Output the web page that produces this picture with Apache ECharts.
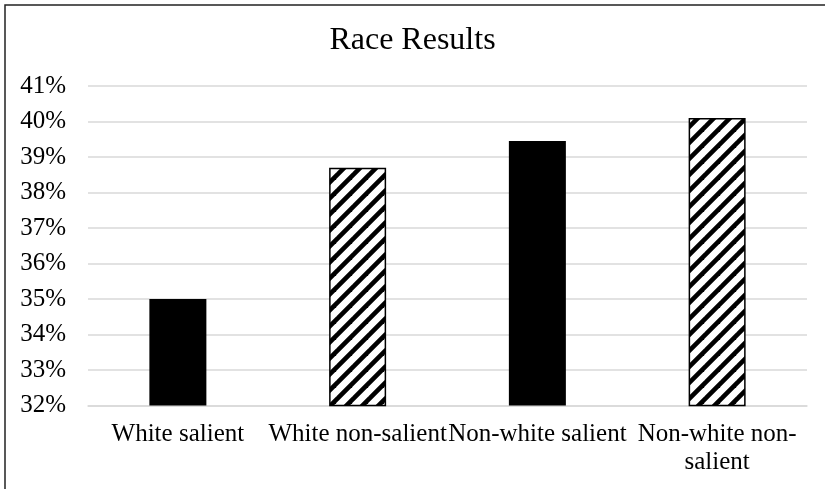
<!DOCTYPE html>
<html>
<head>
<meta charset="utf-8">
<script src="https://cdn.jsdelivr.net/npm/echarts@6/dist/echarts.min.js"></script>
<style>
  html, body { margin: 0; padding: 0; background: #fff; }
  #chart { width: 825px; height: 489px; }
</style>
</head>
<body>
<div id="chart"></div>
<script>
// Chart data
const categories = ['White salient', 'White non-salient', 'Non-white salient', 'Non-white non-salient'];
const values = [35.0, 38.7, 39.45, 40.1];     // percent
const hatched = [false, true, false, true];  // striped fill for the non-salient groups
const yTicks = { min: 32, max: 41, step: 1 };

// Diagonal "/" stripe tile used for the hatched bars
function makeStripeTile() {
  const size = 16;
  const c = document.createElement('canvas');
  c.width = size; c.height = size;
  const ctx = c.getContext('2d');
  ctx.fillStyle = '#fff';
  ctx.fillRect(0, 0, size, size);
  ctx.strokeStyle = '#000';
  ctx.lineWidth = 4.6;
  for (let k = -size; k <= size * 2; k += size) {
    ctx.beginPath();
    ctx.moveTo(k - 4, size + 4);
    ctx.lineTo(k + size + 4, -4);
    ctx.stroke();
  }
  return c;
}
const stripe = { image: makeStripeTile(), repeat: 'repeat' };

const chart = echarts.init(document.getElementById('chart'), null, { renderer: 'canvas' });

const serif = '"Liberation Serif", "Times New Roman", serif';

chart.setOption({
  animation: false,
  backgroundColor: '#fff',
  title: {
    text: 'Race Results',
    left: 'center',
    top: 20,
    textStyle: { fontFamily: serif, fontSize: 32, fontWeight: 'normal', color: '#000' }
  },
  graphic: [{
    type: 'rect',
    shape: { x: 5, y: 5, width: 900, height: 600 },
    style: { fill: 'none', stroke: '#222', lineWidth: 1.5 },
    silent: true
  }],
  grid: { left: 88, right: 18, top: 86, bottom: 83.5 },
  xAxis: {
    type: 'category',
    data: categories,
    axisTick: { show: false },
    axisLine: { show: true, lineStyle: { color: '#d9d9d9', width: 1.5 } },
    axisLabel: {
      interval: 0,
      hideOverlap: false,
      margin: 15,
      fontFamily: serif,
      fontSize: 25,
      lineHeight: 28,
      color: '#000',
      formatter: v => v === 'Non-white non-salient' ? 'Non-white non-\nsalient' : v
    }
  },
  yAxis: {
    type: 'value',
    min: yTicks.min,
    max: yTicks.max,
    interval: yTicks.step,
    axisLine: { show: false },
    axisTick: { show: false },
    splitLine: { lineStyle: { color: '#d9d9d9', width: 1.5 } },
    axisLabel: {
      margin: 22,
      fontFamily: serif,
      fontSize: 25,
      color: '#000',
      formatter: '{value}%'
    }
  },
  series: [{
    type: 'bar',
    barWidth: 57,
    data: values.map((v, i) => ({
      value: v,
      itemStyle: hatched[i]
        ? { color: stripe, borderColor: '#000', borderWidth: 1.5 }
        : { color: '#000' }
    }))
  }]
});
</script>
</body>
</html>
